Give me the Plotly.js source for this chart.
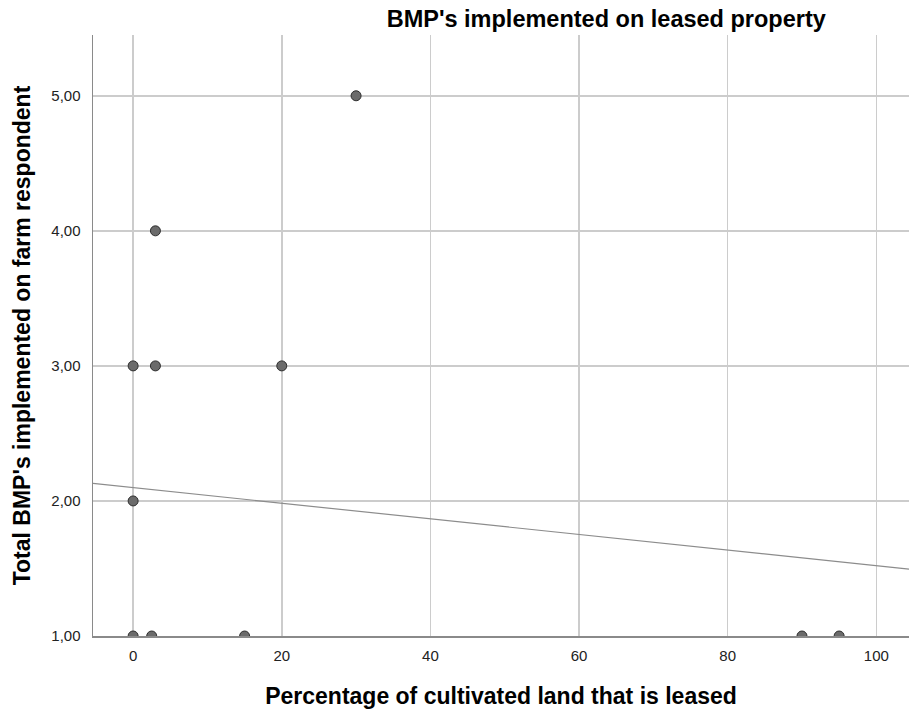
<!DOCTYPE html>
<html>
<head>
<meta charset="utf-8">
<script src="https://cdn.plot.ly/plotly-3.0.1.min.js"></script>
<style>html,body{margin:0;padding:0;background:#fff;}#chart{width:909px;height:711px;}</style>
</head>
<body>
<div id="chart"></div>
<script>
// Data
const leasedPct = [30, 3, 0, 3, 20, 0, 0, 2.5, 15, 90, 95];
const totalBMP  = [5, 4, 3, 3, 3, 2, 1, 1, 1, 1, 1];
// Fit line (linear) endpoints
const fitX = [-5.4, 104.4];
const fitY = [2.13, 1.495];
const xTickVals = [0, 20, 40, 60, 80, 100];
const xTickText = ['0', '20', '40', '60', '80', '100'];
const yTickVals = [1, 2, 3, 4, 5];
const yTickText = ['1,00', '2,00', '3,00', '4,00', '5,00'];

const sans = '"Liberation Sans", Arial, sans-serif';

const traces = [
  {
    x: fitX, y: fitY, type: 'scatter', mode: 'lines',
    line: {color: '#8c8c8c', width: 1.2}, hoverinfo: 'skip', showlegend: false
  },
  {
    x: leasedPct, y: totalBMP, type: 'scatter', mode: 'markers',
    marker: {size: 10, color: '#6b6b6b', line: {color: '#2e2e2e', width: 1}},
    cliponaxis: true, showlegend: false
  }
];

const layout = {
  width: 909, height: 711,
  margin: {l: 93, r: 0, t: 35, b: 75},
  paper_bgcolor: '#ffffff', plot_bgcolor: '#ffffff',
  title: {
    text: "<b>BMP's implemented on leased property</b>",
    font: {family: sans, size: 23.5, color: '#000'},
    x: 0.629, xref: 'paper', xanchor: 'center',
    y: 1, yref: 'container', yanchor: 'top', pad: {t: 11}
  },
  xaxis: {
    range: [-5.4, 104.4],
    tickvals: xTickVals, ticktext: xTickText,
    showgrid: true, gridcolor: '#cccccc', gridwidth: 1.5,
    zeroline: false, showline: true, linecolor: '#8a8a8a', linewidth: 1.5,
    ticks: '', ticklabelstandoff: 5,
    tickfont: {family: sans, size: 15, color: '#222'},
    title: {text: '<b>Percentage of cultivated land that is leased</b>',
            font: {family: sans, size: 23, color: '#000'}, standoff: 25}
  },
  yaxis: {
    range: [1, 5.45],
    tickvals: yTickVals, ticktext: yTickText,
    showgrid: true, gridcolor: '#cccccc', gridwidth: 1.5,
    zeroline: false, showline: true, linecolor: '#8a8a8a', linewidth: 1.5,
    ticks: '', ticklabelstandoff: 8,
    tickfont: {family: sans, size: 15, color: '#222'},
    title: {text: "<b>Total BMP's implemented on farm respondent</b>",
            font: {family: sans, size: 23, color: '#000'}, standoff: 14}
  },
  showlegend: false
};

Plotly.newPlot('chart', traces, layout, {displayModeBar: false, staticPlot: true});
</script>
</body>
</html>
